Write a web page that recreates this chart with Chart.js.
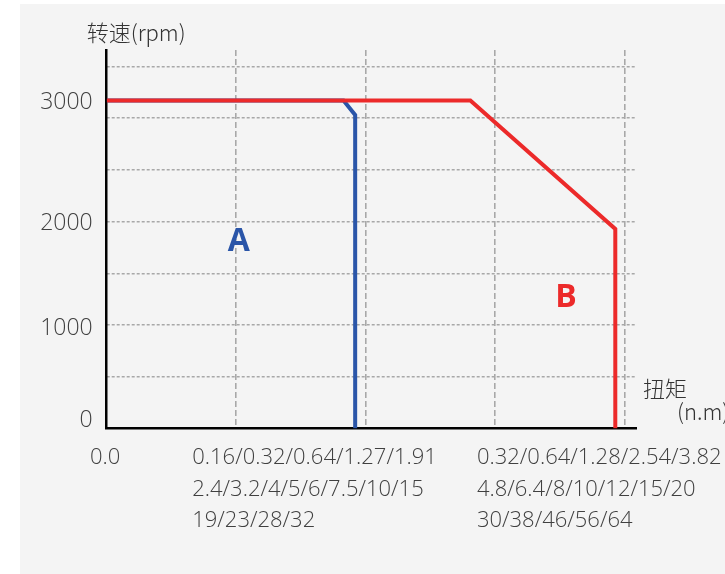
<!DOCTYPE html>
<html>
<head>
<meta charset="utf-8">
<script src="https://cdn.jsdelivr.net/npm/chart.js@4/dist/chart.umd.min.js"></script>
<style>
  html, body { margin: 0; padding: 0; background: #fff; }
  #wrap { position: absolute; left: 20px; top: 4px; width: 705px; height: 570px; background: #f4f4f4; }
</style>
</head>
<body>
<div id="wrap"><canvas id="mainChart"></canvas></div>
<script>
// torque axis is schematic: one unit per vertical grid column
const xTickPos = [0, 0.79, 2.99];
const xTickLabels = [
    ['0.0'],
    ['0.16/0.32/0.64/1.27/1.91', '2.4/3.2/4/5/6/7.5/10/15', '19/23/28/32'],
    ['0.32/0.64/1.28/2.54/3.82', '4.8/6.4/8/10/12/15/20', '30/38/46/56/64']
];
const yTickPos = [70, 915, 1872, 2985];
const yTickLabels = ['0', '1000', '2000', '3000'];

// background grid columns / rows
const xGrid = [1, 2, 3, 4];
const yGrid = [473, 946, 1419, 1892, 2365, 2838, 3311];

// curve B (red) and curve A (blue): torque, speed
const curveBx = [0, 2.81, 3.93, 3.93];
const curveBy = [3000, 3000, 1825, 0];
const curveAx = [0, 1.83, 1.92, 1.92];
const curveAy = [3000, 3000, 2867, 0];

const textColor = '#404040';
Chart.defaults.font.family = "'Open Sans', 'Noto Sans CJK SC', sans-serif";
Chart.defaults.font.weight = '300';

function points(xs, ys) {
    return xs.map((x, i) => ({ x: x, y: ys[i] }));
}

const annotate = {
    id: 'annotate',
    afterDraw(chart) {
        let ctx = chart.ctx;
        let area = chart.chartArea;
        let sx = chart.scales.x, sy = chart.scales.y;
        ctx.save();
        ctx.textBaseline = 'middle';
        ctx.fillStyle = '#333';
        ctx.font = "300 22px 'Noto Sans CJK SC', 'Open Sans', sans-serif";
        ctx.textAlign = 'left';
        ctx.fillText('转速(rpm)', area.left - 20, area.top - 17);
        ctx.fillText('扭矩', area.right + 7, area.bottom - 40);
        ctx.fillText('(n.m)', area.right + 41, area.bottom - 17);

        ctx.textAlign = 'center';
        ctx.font = "bold 32px 'Open Sans', sans-serif";
        ctx.fillStyle = '#2a55a8';
        ctx.fillText('A', sx.getPixelForValue(1.02), sy.getPixelForValue(1706));
        ctx.fillStyle = '#ec2a2a';
        ctx.fillText('B', sx.getPixelForValue(3.55), sy.getPixelForValue(1198));
        ctx.restore();
    }
};

let ctx = document.getElementById('mainChart').getContext('2d');

window.chart = new Chart(ctx, {
    type: 'scatter',
    data: {
        datasets: [{
            label: 'B',
            data: points(curveBx, curveBy),
            showLine: true,
            borderColor: '#ec2a2a',
            borderWidth: 4,
            pointRadius: 0,
            xAxisID: 'x',
            yAxisID: 'y'
        }, {
            label: 'A',
            data: points(curveAx, curveAy),
            showLine: true,
            borderColor: '#2a55a8',
            borderWidth: 4,
            pointRadius: 0,
            xAxisID: 'x',
            yAxisID: 'y'
        }]
    },
    options: {
        responsive: true,
        maintainAspectRatio: false,
        animation: false,
        layout: { padding: { left: 0, right: 89, top: 46, bottom: 0 } },
        plugins: {
            legend: { display: false },
            tooltip: { enabled: false }
        },
        scales: {
            x: {
                type: 'linear',
                position: 'bottom',
                min: 0,
                max: 4.09,
                grid: { display: false, drawTicks: false },
                border: { color: '#000', width: 2.5 },
                afterBuildTicks: s => { s.ticks = xTickPos.map(v => ({ value: v })); },
                afterFit: s => {
                    s.height = 145.5;
                    s.paddingLeft = 0;
                    s.paddingRight = 0;
                },
                ticks: {
                    autoSkip: false,
                    maxRotation: 0,
                    align: 'start',
                    labelOffset: -16.7,
                    padding: 14,
                    color: textColor,
                    font: { size: 22, lineHeight: 1.43 },
                    callback: (v, i) => xTickLabels[i]
                }
            },
            xg: {
                type: 'linear',
                position: 'top',
                min: 0,
                max: 4.09,
                border: { display: false, dash: [6, 3] },
                grid: { color: '#a8a8a8', lineWidth: 1.6, drawTicks: false },
                afterBuildTicks: s => { s.ticks = xGrid.map(v => ({ value: v })); },
                afterFit: s => { s.height = 0; },
                ticks: { display: false }
            },
            y: {
                type: 'linear',
                position: 'left',
                min: 0,
                max: 3462,
                grid: { display: false, drawTicks: false },
                border: { color: '#000', width: 2.5 },
                afterBuildTicks: s => { s.ticks = yTickPos.map(v => ({ value: v })); },
                afterFit: s => {
                    s.width = 86.7;
                    s.paddingTop = 0;
                    s.paddingBottom = 0;
                },
                ticks: {
                    autoSkip: false,
                    padding: 14,
                    color: textColor,
                    font: { size: 23 },
                    callback: (v, i) => yTickLabels[i]
                }
            },
            yg: {
                type: 'linear',
                position: 'right',
                min: 0,
                max: 3462,
                border: { display: false, dash: [3, 2] },
                grid: { color: '#a8a8a8', lineWidth: 1.6, drawTicks: false },
                afterBuildTicks: s => { s.ticks = yGrid.map(v => ({ value: v })); },
                afterFit: s => { s.width = 0; },
                ticks: { display: false }
            }
        }
    },
    plugins: [annotate]
});
</script>
</body>
</html>
